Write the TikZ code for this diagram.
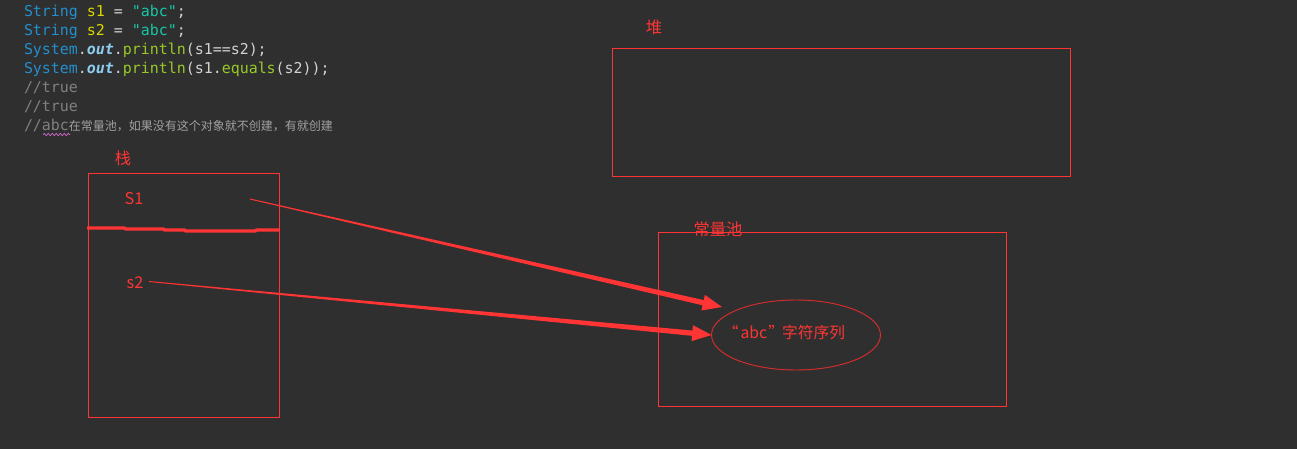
\documentclass[tikz,border=0pt]{standalone}
\usepackage{fontspec}
\newfontfamily\cjk{Noto Sans CJK SC}
\newfontfamily\codefont{DejaVu Sans Mono}
\usetikzlibrary{shapes.geometric,calc,decorations.pathmorphing}

\definecolor{bg}{HTML}{2F2F2F}
\definecolor{pen}{HTML}{FF3535}
\definecolor{kw}{HTML}{2290CC}
\definecolor{var}{HTML}{D8D800}
\definecolor{op}{HTML}{D2D2D2}
\definecolor{str}{HTML}{17C6A3}
\definecolor{outc}{HTML}{8CCDF0}
\definecolor{fn}{HTML}{98C828}
\definecolor{cmt}{HTML}{808080}
\definecolor{cmtzh}{HTML}{A0A0A0}
\definecolor{squig}{HTML}{E070D8}

% thin at the start, thick at the head
\newcommand\taperarrow[2]{%
    \path ($(#2)!14.5pt!(#1)$) coordinate (th);
    \fill[pen] ($(#1)!0.35pt!90:(#2)$) -- ($(th)!2pt!90:(#2)$) -- ($(th)!6pt!90:(#2)$)
        -- (#2) -- ($(th)!6pt!-90:(#2)$) -- ($(th)!2pt!-90:(#2)$)
        -- ($(#1)!0.35pt!-90:(#2)$) -- cycle;}

\begin{document}
\begin{tikzpicture}[x=0.75pt,y=-0.75pt,
    every node/.style={inner sep=0pt,outer sep=0pt},
    code/.style={anchor=base west,font=\codefont\fontsize{11.2pt}{13pt}\selectfont},
    lbl/.style={text=pen,font=\cjk\fontsize{12.2pt}{14pt}\selectfont},
    area/.style={draw=pen,line width=0.75pt}
]
    \fill[bg] (0,0) rectangle (1297,449);
    \useasboundingbox (0,0) rectangle (1297,449);

    \node[code] (l1) at (24,17) {\textcolor{kw}{String} \textcolor{var}{s1} \textcolor{op}{=} \textcolor{str}{"abc"}\textcolor{op}{;}};
    \node[code] (l2) at (24,36) {\textcolor{kw}{String} \textcolor{var}{s2} \textcolor{op}{=} \textcolor{str}{"abc"}\textcolor{op}{;}};
    \node[code] (l3) at (24,55) {\textcolor{kw}{System}\textcolor{op}{.}\textcolor{outc}{\bfseries\itshape out}\textcolor{op}{.}\textcolor{fn}{println}\textcolor{op}{(s1==s2);}};
    \node[code] (l4) at (24,74) {\textcolor{kw}{System}\textcolor{op}{.}\textcolor{outc}{\bfseries\itshape out}\textcolor{op}{.}\textcolor{fn}{println}\textcolor{op}{(s1.}\textcolor{fn}{equals}\textcolor{op}{(s2));}};
    \node[code,text=cmt] (l5) at (24,93) {//true};
    \node[code,text=cmt] (l6) at (24,112) {//true};
    \node[code,text=cmt] (l7) at (24,131) {//abc{\cjk\fontsize{9pt}{11pt}\selectfont\color{cmtzh}在常量池，如果没有这个对象就不创建，有就创建}};
    \draw[squig,line width=0.5pt,decorate,decoration={snake,amplitude=0.8pt,segment length=3pt}] (43,134.5) -- (70,134.5);

    \node[area,minimum width=191*0.75pt,minimum height=243*0.75pt] (stack) at (183.5,295.5) {};
    \node[area,minimum width=458*0.75pt,minimum height=128*0.75pt] (heap) at (841,113) {};
    \node[area,minimum width=348*0.75pt,minimum height=173*0.75pt] (pool) at (832,319.5) {};

    \node[lbl] (stacklbl) at (123,158) {栈};
    \node[lbl] (heaplbl) at (654,27) {堆};
    \node[lbl] (poollbl) at (718,229) {常量池};
    \node[lbl] (s1) at (134,199) {S1};
    \node[lbl] (s2) at (135,283) {s2};

    \draw[pen,line width=2.6pt] (87,228) -- (124,228) -- (126,229) -- (163,229) -- (165,230) -- (184,230)
        -- (186,231) -- (255,231) -- (257,230) -- (279,230);

    \node[ellipse,draw=pen!85!black,line width=0.7pt,minimum width=169*0.75pt,minimum height=70*0.75pt] (seq) at (796,335) {};
    \node[lbl,font=\cjk\fontsize{11.8pt}{14pt}\selectfont] (seqtxt) at (784,333) {“\hspace{1.5pt}abc\hspace{1pt}”\hspace{-1.5pt}字符序列};

    \coordinate (s1from) at (250,199);
    \coordinate (s1to) at (722,307);
    \coordinate (s2from) at (149,281.5);
    \taperarrow{s1from}{s1to}
    \taperarrow{s2from}{seq.west}

\end{tikzpicture}
\end{document}
